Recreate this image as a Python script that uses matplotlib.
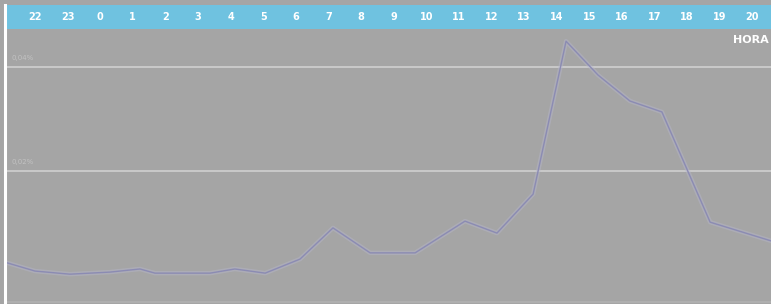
import matplotlib
matplotlib.use("Agg")
import matplotlib.pyplot as plt

# tick labels (hours shown in the top band)
hour_labels = ["22", "23", "0", "1", "2", "3", "4", "5", "6", "7", "8", "9",
               "10", "11", "12", "13", "14", "15", "16", "17", "18", "19", "20"]

# line vertices: position along the hour axis (label slots) and value in %
line_x = [-0.92, 0.0, 1.07, 2.30, 3.22, 3.68, 5.37, 6.13, 7.06, 8.13, 9.14,
          10.28, 11.66, 13.19, 14.17, 15.28, 16.29, 17.27, 18.25, 19.23,
          20.71, 22.58]
line_v = [0.0024, 0.0007, 0.0001, 0.0005, 0.0011, 0.0003, 0.0003, 0.0011,
          0.0003, 0.0030, 0.0090, 0.0042, 0.0042, 0.0103, 0.0080, 0.0155,
          0.0449, 0.0384, 0.0334, 0.0313, 0.0101, 0.0065]

grid_vals = [0.02, 0.04]
grid_labels = ["0,02%", "0,04%"]

W, H = 771, 304
BG = "#a5a5a5"
BLUE = "#6fc2e0"

fig = plt.figure(figsize=(W / 100, H / 100), dpi=100)
fig.patch.set_facecolor(BG)

slot0, slotw = 35.0, 32.6
x_left = (7 - slot0) / slotw
x_right = (W - slot0) / slotw

# main plot area (pixels y 30..304)
ax = fig.add_axes([7 / W, 0, (W - 7) / W, (H - 30) / H])
ax.set_facecolor(BG)
ax.set_xlim(x_left, x_right)
# y: 0.04 at px 67, 0.02 at px 171 -> 5200 px per 1%
zero_px = 274.7
ax.set_ylim((zero_px - 304) / 5200, (zero_px - 30) / 5200)
for s in ax.spines.values():
    s.set_visible(False)
ax.set_xticks([])
ax.set_yticks([])

for v, lab in zip(grid_vals, grid_labels):
    ax.axhline(v, color="#c9c9c9", lw=1.4, zorder=1)
    ax.text(x_left + 0.15, v + 0.0011, lab, fontsize=5, color="#c2c2c2",
            ha="left", va="bottom", zorder=2)

ax.plot(line_x, line_v, color="#b6b6cc", lw=3.2, alpha=0.45,
        solid_joinstyle="round", zorder=3)
ax.plot(line_x, line_v, color="#8b8bb3", lw=1.0, zorder=4)

ax.text(x_right - 0.08, (zero_px - 40) / 5200, "HORA", fontsize=8,
        color="white", fontweight="bold", ha="right", va="center", zorder=5)

# bottom light stripe
ax.axhline((zero_px - 302) / 5200, color="#b2b2b2", lw=1.2, zorder=1)

# top blue band (pixels y 5..29)
band = fig.add_axes([7 / W, (H - 29) / H, (W - 7) / W, 24 / H])
band.set_facecolor(BLUE)
band.set_xlim(x_left, x_right)
band.set_ylim(0, 1)
for s in band.spines.values():
    s.set_visible(False)
band.set_xticks([])
band.set_yticks([])
for i, lab in enumerate(hour_labels):
    band.text(i, 0.5, lab, fontsize=7, color="white", fontweight="bold",
              ha="center", va="center")

# white vertical line on the left
fig.add_artist(plt.Line2D([5 / W, 5 / W], [0, (H - 5) / H],
                          transform=fig.transFigure, color="white", lw=2.2))

fig.savefig("out.png", dpi=100, facecolor=BG)
